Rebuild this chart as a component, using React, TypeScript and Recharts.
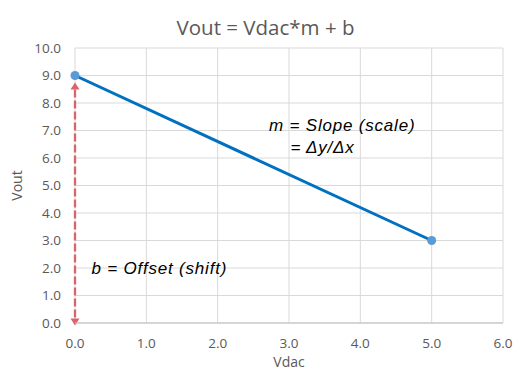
import React from 'react';
import { ComposedChart, Line, XAxis, YAxis, CartesianGrid, ReferenceLine, ReferenceDot, Label } from 'recharts';

const vdac = [0, 5];
const vout = [9, 3];
const xTicks = [0, 1, 2, 3, 4, 5, 6];
const yTicks = [0, 1, 2, 3, 4, 5, 6, 7, 8, 9, 10];
const offsetFrom = { x: 0, y: 0 };
const offsetTo = { x: 0, y: 9 };
const noteX = [2.72, 3.02, 0.23];
const noteY = [7.0, 6.2, 1.8];
const noteText = ['m = Slope (scale)', '= \u0394y/\u0394x', 'b = Offset (shift)'];

const data = vdac.map((x, i) => ({ x, y: vout[i] }));
const notes = noteText.map((t, i) => ({ x: noteX[i], y: noteY[i], t }));

const ARROW = '#D9656A';

const ArrowShape = (props: any) => {
  const { x1, y1, x2, y2 } = props;
  const x = (x1 + x2) / 2;
  const top = Math.min(y1, y2);
  const bottom = Math.max(y1, y2);
  const topTip = top + 7;
  const botTip = bottom + 2.5;
  const head = 7;
  const hw = 4.5;
  return (
    <g>
      <line x1={x} y1={topTip + head} x2={x} y2={botTip - head} stroke={ARROW} strokeWidth={2.3} strokeDasharray="8 3" />
      <polygon points={`${x},${topTip} ${x - hw},${topTip + head} ${x + hw},${topTip + head}`} fill={ARROW} />
      <polygon points={`${x},${botTip} ${x - hw},${botTip - head} ${x + hw},${botTip - head}`} fill={ARROW} />
    </g>
  );
};

const fmt = (v: number) => v.toFixed(1);
const FONT = '"Open Sans", sans-serif';

export default function App() {
  return (
    <div style={{ position: 'absolute', left: 0, top: 0, width: 531, height: 371, background: '#fff' }}>
      <div style={{ position: 'absolute', left: 0, top: 14, width: 531, textAlign: 'center', fontFamily: FONT, fontSize: 20.5, color: '#595959', lineHeight: '26px', zIndex: 1 }}>
        Vout = Vdac*m + b
      </div>
      <ComposedChart width={531} height={371} data={data} margin={{ top: 48, right: 28, bottom: 0, left: 0 }}>
        <CartesianGrid stroke="#D9D9D9" strokeWidth={1} />
        <XAxis
          dataKey="x"
          type="number"
          domain={[0, 6]}
          ticks={xTicks}
          tickFormatter={fmt}
          height={48}
          tickLine={false}
          axisLine={{ stroke: '#BFBFBF' }}
          tickSize={0}
          tickMargin={15}
          tick={{ fill: '#595959', fontSize: 13.5, fontFamily: FONT }}
        >
          <Label value="Vdac" position="insideBottom" offset={4} style={{ fill: '#595959', fontSize: 14, fontFamily: FONT }} />
        </XAxis>
        <YAxis
          type="number"
          domain={[0, 10]}
          ticks={yTicks}
          tickFormatter={fmt}
          width={75}
          tickLine={false}
          axisLine={false}
          tickSize={0}
          tickMargin={14}
          tick={{ fill: '#595959', fontSize: 13.5, fontFamily: FONT }}
        >
          <Label value="Vout" angle={-90} position="insideLeft" offset={17} style={{ fill: '#595959', fontSize: 14, fontFamily: FONT, textAnchor: 'middle' }} />
        </YAxis>
        <ReferenceLine segment={[offsetFrom, offsetTo]} ifOverflow="visible" shape={ArrowShape} />
        <Line
          dataKey="y"
          stroke="#0070C0"
          strokeWidth={3}
          isAnimationActive={false}
          dot={{ r: 4.5, fill: '#5B9BD5', stroke: 'none', strokeWidth: 0 }}
          activeDot={false}
        />
        {notes.map((n, i) => (
          <ReferenceDot
            key={i}
            x={n.x}
            y={n.y}
            r={0}
            ifOverflow="visible"
            shape={(p: any) => (
              <text x={p.cx} y={p.cy} fill="#000" fontSize={17} letterSpacing={0.8} fontStyle="italic" fontFamily='"Liberation Sans", Arial, sans-serif'>
                {n.t}
              </text>
            )}
          />
        ))}
      </ComposedChart>
    </div>
  );
}
